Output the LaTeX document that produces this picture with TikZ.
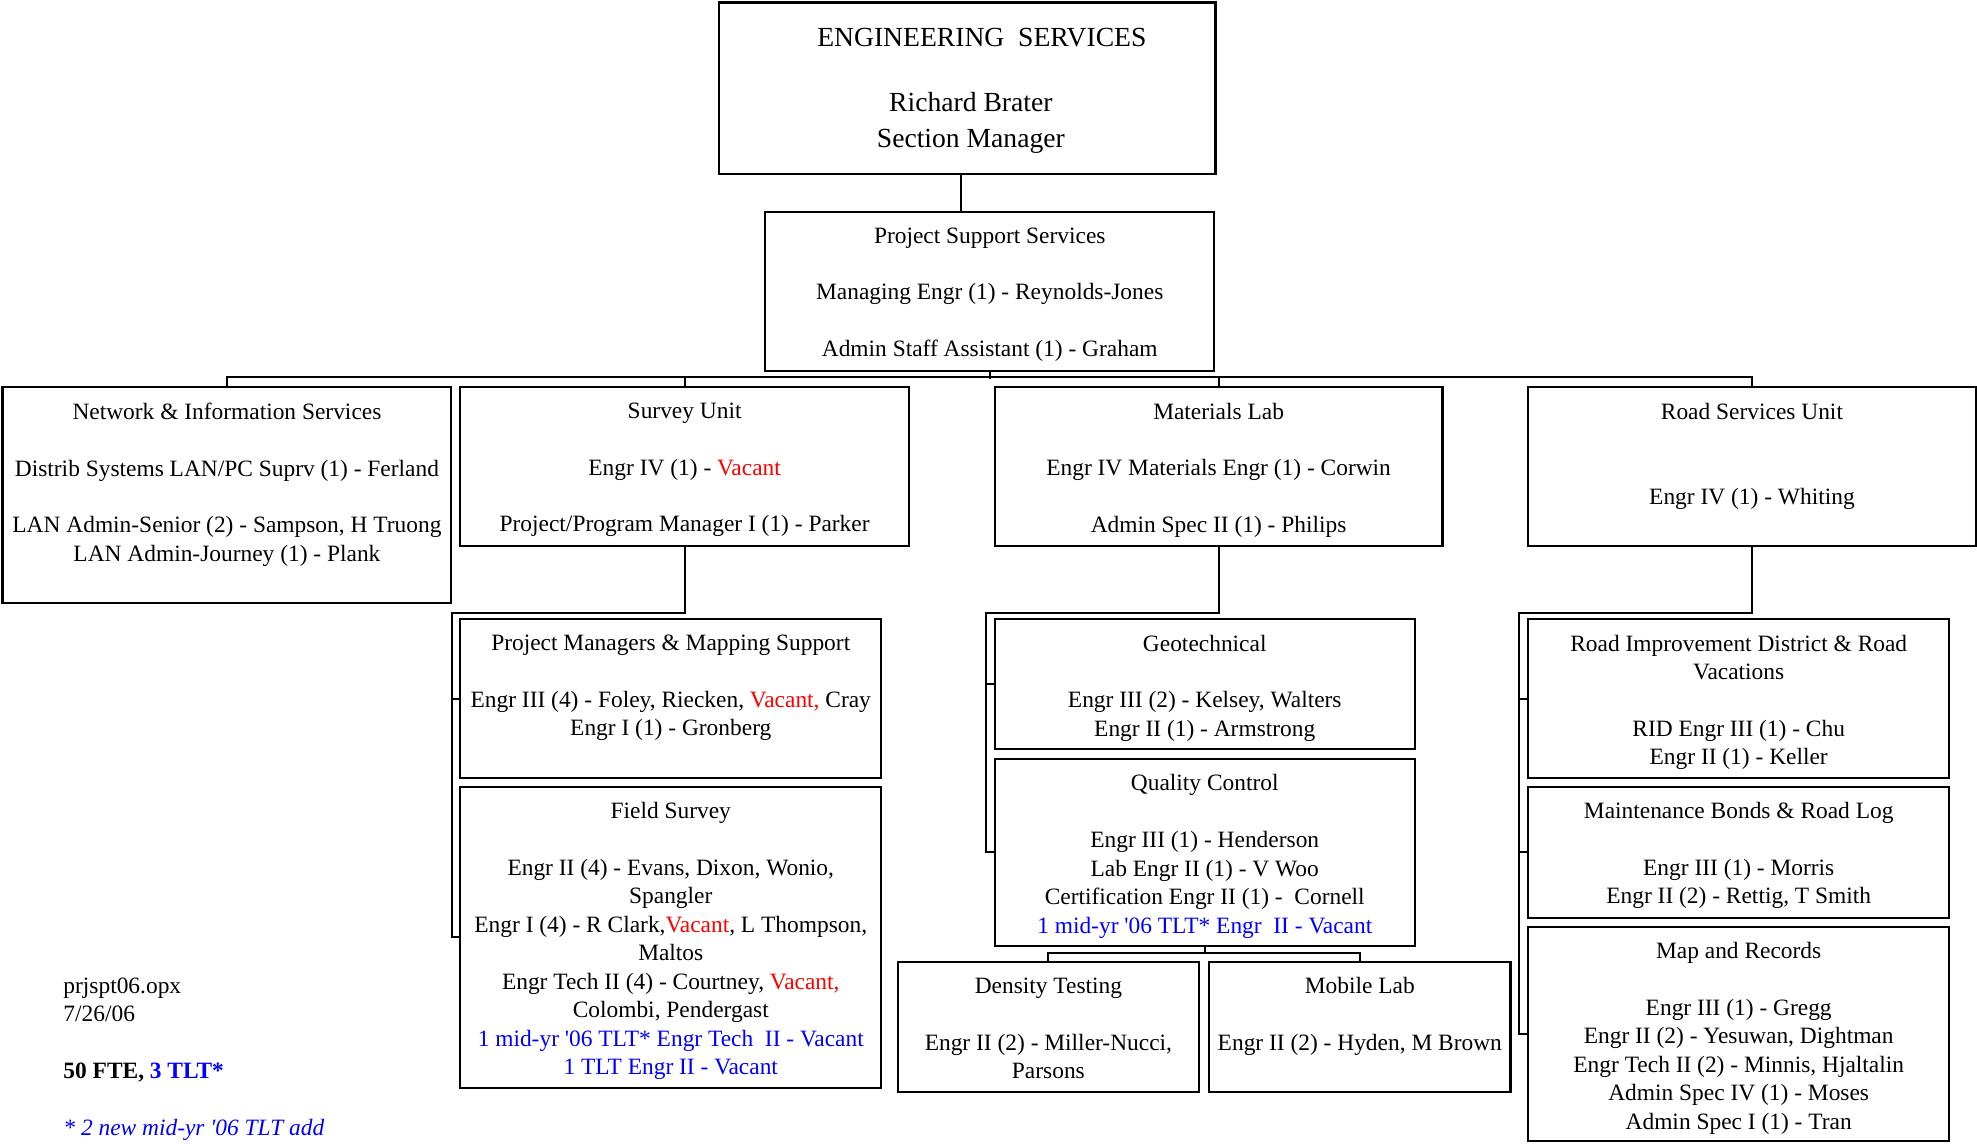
\documentclass[tikz,border=0pt]{standalone}
\usepackage{fontspec}
\setmainfont{Liberation Serif}
\usetikzlibrary{positioning, calc, fit}
\usepackage{xcolor}
\definecolor{vacred}{RGB}{255,0,0}
\definecolor{tltblue}{RGB}{0,0,255}
\newcommand{\vac}[1]{\textcolor{vacred}{#1}}
\newcommand{\tlt}[1]{\textcolor{tltblue}{#1}}

\begin{document}
\begin{tikzpicture}[x=0.63pt, y=-0.63pt, font=\fontsize{11.7}{14.2}\selectfont]

        % Styles
        \tikzstyle{unit} = [draw=black, line width=1.1pt, inner sep=0pt]
        \tikzstyle{txt} = [align=center, inner sep=0pt, anchor=north]
        \tikzstyle{link} = [draw=black, line width=1pt]

        \useasboundingbox (0,0) rectangle (1568,907);

        % --- TOP: SECTION MANAGER ---
        \node[unit, fit={(570,2) (964,138)}] (eng) {};
        \node[txt, font=\fontsize{13.8}{17.6}\selectfont] (eng-t) at ($(eng.north)+(3,21)$)
            {\hspace*{11pt}ENGINEERING~~SERVICES\\[15pt]Richard Brater\\Section Manager};

        \node[unit, fit={(607,168) (963,294)}] (pss) {};
        \node[txt] (pss-t) at ($(pss.north)+(0,13)$)
            {Project Support Services\\[\baselineskip]Managing Engr (1) - Reynolds-Jones\\[\baselineskip]Admin Staff Assistant (1) - Graham};

        % --- UNITS ---
        \node[unit, fit={(2,307) (358,478)}] (nis) {};
        \node[txt] (nis-t) at ($(nis.north)+(0,13)$)
            {Network \& Information Services\\[\baselineskip]Distrib Systems LAN/PC Suprv (1) - Ferland\\[\baselineskip]LAN Admin-Senior (2) - Sampson, H Truong\\LAN Admin-Journey (1) - Plank};

        \node[unit, fit={(365,307) (721,433)}] (survey) {};
        \node[txt] (survey-t) at ($(survey.north)+(0,13)$)
            {Survey Unit\\[\baselineskip]Engr IV (1) - \vac{Vacant}\\[\baselineskip]Project/Program Manager I (1) - Parker};

        \node[unit, fit={(789,307) (1144,433)}] (mat) {};
        \node[txt] (mat-t) at ($(mat.north)+(0,13)$)
            {Materials Lab\\[\baselineskip]Engr IV Materials Engr (1) - Corwin\\[\baselineskip]Admin Spec II (1) - Philips};

        \node[unit, fit={(1212,307) (1567,433)}] (road) {};
        \node[txt] (road-t) at ($(road.north)+(0,13)$)
            {Road Services Unit\\[2\baselineskip]Engr IV (1) - Whiting};

        % --- SURVEY GROUPS ---
        \node[unit, fit={(365,491) (699,617)}] (pm) {};
        \node[txt] (pm-t) at ($(pm.north)+(0,13)$)
            {Project Managers \& Mapping Support\\[\baselineskip]Engr III (4) - Foley, Riecken, \vac{Vacant,} Cray\\Engr I (1) - Gronberg};

        \node[unit, fit={(365,624) (699,863)}] (fs) {};
        \node[txt] (fs-t) at ($(fs.north)+(0,13)$)
            {Field Survey\\[\baselineskip]Engr II (4) - Evans, Dixon, Wonio,\\Spangler\\Engr I (4) - R Clark,\vac{Vacant}, L Thompson,\\Maltos\\Engr Tech II (4) - Courtney, \vac{Vacant,}\\Colombi, Pendergast\\\tlt{1 mid-yr \textquotesingle06 TLT* Engr Tech~~II - Vacant}\\\tlt{1 TLT Engr II - Vacant}};

        % --- MATERIALS GROUPS ---
        \node[unit, fit={(789,491) (1122,594)}] (geo) {};
        \node[txt] (geo-t) at ($(geo.north)+(0,13)$)
            {Geotechnical\\[\baselineskip]Engr III (2) - Kelsey, Walters\\Engr II (1) - Armstrong};

        \node[unit, fit={(789,602) (1122,750)}] (qc) {};
        \node[txt] (qc-t) at ($(qc.north)+(0,13)$)
            {Quality Control\\[\baselineskip]Engr III (1) - Henderson\\Lab Engr II (1) - V Woo\\Certification Engr II (1) -~~Cornell\\\tlt{1 mid-yr \textquotesingle06 TLT* Engr~~II - Vacant}};

        \node[unit, fit={(712,763) (951,866)}] (dens) {};
        \node[txt] (dens-t) at ($(dens.north)+(0,13)$)
            {Density Testing\\[\baselineskip]Engr II (2) - Miller-Nucci,\\Parsons};

        \node[unit, fit={(959,763) (1198,866)}] (mob) {};
        \node[txt] (mob-t) at ($(mob.north)+(0,13)$)
            {Mobile Lab\\[\baselineskip]Engr II (2) - Hyden, M Brown};

        % --- ROAD GROUPS ---
        \node[unit, fit={(1212,491) (1546,617)}] (rid) {};
        \node[txt] (rid-t) at ($(rid.north)+(0,13)$)
            {Road Improvement District \& Road\\Vacations\\[\baselineskip]RID Engr III (1) - Chu\\Engr II (1) - Keller};

        \node[unit, fit={(1212,624) (1546,728)}] (maint) {};
        \node[txt] (maint-t) at ($(maint.north)+(0,13)$)
            {Maintenance Bonds \& Road Log\\[\baselineskip]Engr III (1) - Morris\\Engr II (2) - Rettig, T Smith};

        \node[unit, fit={(1212,735) (1546,905)}] (map) {};
        \node[txt] (map-t) at ($(map.north)+(0,13)$)
            {Map and Records\\[\baselineskip]Engr III (1) - Gregg\\Engr II (2) - Yesuwan, Dightman\\Engr Tech II (2) - Minnis, Hjaltalin\\Admin Spec IV (1) - Moses\\Admin Spec I (1) - Tran};

        % --- NOTES ---
        \node[anchor=north west, align=left, inner sep=0pt] (notes) at (50,775)
            {prjspt06.opx\\7/26/06\\[\baselineskip]\textbf{50 FTE, \tlt{3 TLT*}}\\[\baselineskip]\textit{\tlt{* 2 new mid-yr \textquotesingle06 TLT add}}};

        % --- CONNECTORS ---
        \draw[link] ($(eng.south)+(-5,0)$) coordinate (top) -- (top |- pss.north);
        \draw[link] (pss.south) -- ++(0,6);
        \draw[link] (nis.north) -- ++(0,-7) -| (road.north);
        \draw[link] (survey.north) -- ++(0,-7);
        \draw[link] (mat.north) -- ++(0,-7);

        \draw[link] (survey.south) -- ++(0,52) -| ($(fs.west)+(-6,0)$) -- (fs.west);
        \draw[link] (pm.west) -- ++(-6,0);

        \draw[link] (mat.south) -- ++(0,52) -| ($(qc.west)+(-6,0)$) -- (qc.west);
        \draw[link] (geo.west) -- ++(-6,0);
        \draw[link] (qc.south) -- ++(0,6);
        \draw[link] (dens.north) -- ++(0,-6) -| (mob.north);

        \draw[link] (road.south) -- ++(0,52) -| ($(map.west)+(-6,0)$) -- (map.west);
        \draw[link] (rid.west) -- ++(-6,0);
        \draw[link] (maint.west) -- ++(-6,0);

    \end{tikzpicture}
\end{document}
